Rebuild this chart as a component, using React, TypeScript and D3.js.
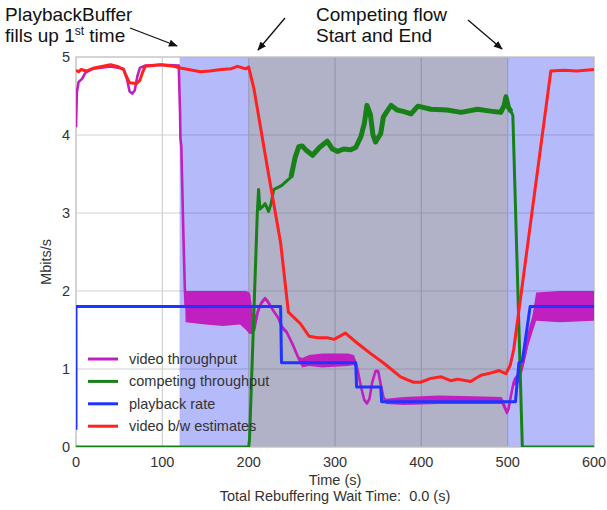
import React from 'react';
import * as d3 from 'd3';

// ---- data ----
const xTicks = [0, 100, 200, 300, 400, 500, 600];
const yTicks = [0, 1, 2, 3, 4, 5];
const bufferSpans = [[120, 200], [500, 600]];
const competeSpan = [200, 500];

// video throughput (lo/hi envelope where it oscillates)
const vidT = [0, 1, 3, 7, 11, 20, 40, 55, 59, 62, 65, 68, 71, 74, 80, 100, 119, 120.5, 121, 122, 124, 126, 127, 150, 170, 190, 197, 201, 202, 205, 208, 211, 215, 219, 223, 229, 234, 239, 244, 252, 258, 262, 270, 285, 300, 315, 322, 326, 330, 334, 337, 340, 343, 347, 350, 353, 356, 359, 380, 420, 460, 493, 496, 499, 501, 504, 507, 512, 516, 520, 524, 529, 533, 560, 600];
const vidLo = [4.1, 4.55, 4.68, 4.72, 4.8, 4.85, 4.88, 4.85, 4.72, 4.56, 4.53, 4.57, 4.75, 4.86, 4.89, 4.9, 4.89, 4.3, 3.95, 3.85, 2.9, 2.05, 1.6, 1.57, 1.55, 1.57, 1.5, 1.45, 1.45, 1.45, 1.5, 1.7, 1.82, 1.88, 1.82, 1.72, 1.64, 1.5, 1.45, 1.26, 1.1, 1.02, 1.04, 1.02, 1.03, 1.04, 1.05, 0.95, 0.75, 0.58, 0.54, 0.6, 0.8, 0.96, 0.95, 0.78, 0.62, 0.55, 0.54, 0.55, 0.55, 0.55, 0.48, 0.41, 0.45, 0.62, 0.78, 0.82, 0.92, 1.1, 1.3, 1.48, 1.62, 1.6, 1.62];
const vidHi = [4.1, 4.55, 4.68, 4.72, 4.8, 4.85, 4.88, 4.85, 4.72, 4.56, 4.53, 4.57, 4.75, 4.86, 4.89, 4.9, 4.89, 4.3, 3.95, 3.85, 2.9, 2.05, 2.0, 2.0, 2.0, 2.0, 2.0, 1.98, 1.95, 1.7, 1.7, 1.8, 1.88, 1.93, 1.88, 1.76, 1.68, 1.56, 1.5, 1.32, 1.16, 1.14, 1.18, 1.2, 1.2, 1.2, 1.18, 1.05, 0.8, 0.62, 0.58, 0.64, 0.85, 0.99, 0.99, 0.82, 0.66, 0.62, 0.64, 0.66, 0.65, 0.64, 0.58, 0.48, 0.52, 0.72, 0.88, 0.95, 1.08, 1.3, 1.5, 1.7, 1.98, 2.0, 2.0];

// competing throughput
const grnT = [0, 200, 201, 210, 211.5, 213, 216, 219, 223, 226, 229, 238, 249, 254, 258, 262, 267, 274, 282, 291, 297, 303, 310, 318, 324, 330, 334, 337, 341, 344, 347, 353, 356, 360, 365, 372, 380, 388, 396, 411, 430, 446, 465, 484, 492, 496, 498, 501, 504, 506, 517, 600];
const grnV = [0, 0, 0.1, 3.0, 3.3, 3.05, 3.08, 3.12, 3.02, 3.12, 3.3, 3.35, 3.46, 3.72, 3.85, 3.86, 3.8, 3.74, 3.84, 3.92, 3.82, 3.79, 3.82, 3.81, 3.84, 3.98, 4.15, 4.38, 4.26, 4.0, 3.91, 4.02, 4.23, 4.3, 4.38, 4.32, 4.3, 4.27, 4.37, 4.33, 4.32, 4.29, 4.33, 4.3, 4.29, 4.38, 4.49, 4.35, 4.3, 4.25, 0, 0];

// playback rate
const rateT = [0, 0, 237, 238, 324, 325, 353, 354, 509, 513, 517, 526, 600];
const rateV = [0.22, 1.8, 1.8, 1.08, 1.08, 0.77, 0.77, 0.58, 0.58, 1.08, 1.1, 1.8, 1.8];

// video b/w estimates
const estT = [0, 3, 6, 12, 21, 40, 48, 55, 58, 62, 70, 74, 77, 80, 98, 113, 121, 135, 144, 155, 168, 180, 187, 193, 197, 200, 206, 223, 237, 246, 260, 270, 280, 291, 299, 312, 326, 341, 357, 376, 384, 391, 399, 411, 423, 434, 442, 457, 469, 481, 490, 498, 503, 507, 550, 565, 580, 600];
const estV = [4.83, 4.81, 4.84, 4.82, 4.86, 4.9, 4.88, 4.84, 4.76, 4.67, 4.66, 4.7, 4.8, 4.88, 4.9, 4.88, 4.86, 4.83, 4.81, 4.82, 4.84, 4.85, 4.88, 4.86, 4.85, 4.87, 4.6, 3.5, 2.62, 1.73, 1.58, 1.42, 1.4, 1.4, 1.38, 1.46, 1.33, 1.2, 1.07, 0.9, 0.86, 0.83, 0.83, 0.88, 0.9, 0.85, 0.87, 0.84, 0.92, 0.95, 0.98, 0.94, 1.05, 1.25, 4.82, 4.83, 4.82, 4.84];

const legendLabels = ['video throughput', 'competing throughput', 'playback rate', 'video b/w estimates'];
const legendColors = ['#c020c0', '#178017', '#1f35ff', '#ff2020'];

export default function App() {
  const L = 76, R = 594, T = 57, B = 447;
  const x = d3.scaleLinear().domain([0, 600]).range([L, R]);
  const y = d3.scaleLinear().domain([0, 5]).range([B, T]);

  const idx = (a: number[]) => a.map((_, i) => i);
  const vidArea = d3.area<number>().x(i => x(vidT[i])).y0(i => y(vidLo[i])).y1(i => y(vidHi[i]));
  const vidLine = d3.line<number>().x(i => x(vidT[i])).y(i => y((vidLo[i] + vidHi[i]) / 2));
  const grnLine = d3.line<number>().x(i => x(grnT[i])).y(i => y(grnV[i]));
  const rateLine = d3.line<number>().x(i => x(rateT[i])).y(i => y(rateV[i]));
  const estLine = d3.line<number>().x(i => x(estT[i])).y(i => y(estV[i]));
  const grnNoisy = idx(grnT).filter(i => grnT[i] >= 249 && grnT[i] <= 504);

  const font = 'Liberation Sans, Arial, sans-serif';
  const textColor = '#333';
  const annFs = 19;

  return (
    <svg width={607} height={510} style={{ position: 'absolute', left: 0, top: 0, background: '#fff' }} fontFamily={font}>
      <defs>
        <clipPath id="plot"><rect x={L} y={T} width={R - L} height={B - T} /></clipPath>
        <marker id="ah" viewBox="0 0 10 10" refX="9" refY="5" markerWidth="9" markerHeight="9" orient="auto-start-reverse" markerUnits="userSpaceOnUse">
          <path d="M0,1 L10,5 L0,9 z" fill="#111" />
        </marker>
      </defs>
      <rect x={L} y={T} width={R - L} height={B - T} fill="#fff" />
      {/* grid */}
      {xTicks.map(t => <line key={'gx' + t} x1={x(t)} x2={x(t)} y1={T} y2={B} stroke="#cfcfcf" strokeWidth={1.2} />)}
      {yTicks.map(t => <line key={'gy' + t} x1={L} x2={R} y1={y(t)} y2={y(t)} stroke="#cfcfcf" strokeWidth={1.2} />)}
      {/* spans */}
      {bufferSpans.map((s, i) => <rect key={'bs' + i} x={x(s[0])} y={T} width={x(s[1]) - x(s[0])} height={B - T} fill="#0a1ef0" fillOpacity={0.3} />)}
      <rect x={x(competeSpan[0])} y={T} width={x(competeSpan[1]) - x(competeSpan[0])} height={B - T} fill="#525283" fillOpacity={0.45} />
      <rect x={L} y={T} width={R - L} height={B - T} fill="none" stroke="#c8c8c8" strokeWidth={1.2} />
      <g clipPath="url(#plot)" fill="none" strokeLinejoin="round">
        <path d={vidArea(idx(vidT)) || ''} fill="#c020c0" stroke="none" />
        <path d={vidLine(idx(vidT)) || ''} stroke="#c020c0" strokeWidth={2.6} />
        <path d={grnLine(idx(grnT)) || ''} stroke="#178017" strokeWidth={3} />
        <path d={grnLine(grnNoisy) || ''} stroke="#178017" strokeWidth={5} />
        <path d={rateLine(idx(rateT)) || ''} stroke="#1f35ff" strokeWidth={3} />
        <path d={estLine(idx(estT)) || ''} stroke="#ff2020" strokeWidth={3} />
      </g>
      {/* tick labels */}
      {xTicks.map(t => <text key={'tx' + t} x={x(t)} y={467} textAnchor="middle" fontSize={14.5} fill={textColor}>{t}</text>)}
      {yTicks.map(t => <text key={'ty' + t} x={70} y={y(t) + 5} textAnchor="end" fontSize={14.5} fill={textColor}>{t}</text>)}
      <text x={(L + R) / 2} y={485} textAnchor="middle" fontSize={14.5} fill={textColor}>Time (s)</text>
      <text x={(L + R) / 2} y={501} textAnchor="middle" fontSize={14.5} fill={textColor} style={{ whiteSpace: 'pre' }}>{'Total Rebuffering Wait Time:  0.0 (s)'}</text>
      <text transform={`translate(51,262) rotate(-90)`} textAnchor="middle" fontSize={14.5} fill={textColor}>Mbits/s</text>
      {/* legend */}
      {legendLabels.map((lab, i) => (
        <g key={lab}>
          <line x1={88} x2={118} y1={359 + i * 22.4} y2={359 + i * 22.4} stroke={legendColors[i]} strokeWidth={3} />
          <text x={129} y={359 + i * 22.4 + 5} fontSize={14.5} fill={textColor}>{lab}</text>
        </g>
      ))}
      {/* annotations */}
      <text x={5} y={21} fontSize={annFs} fill="#111">PlaybackBuffer</text>
      <text x={5} y={42} fontSize={annFs} fill="#111">fills up 1<tspan dy={-7} fontSize={12}>st</tspan><tspan dy={7}> time</tspan></text>
      <text x={316} y={21} fontSize={annFs} fill="#111">Competing flow</text>
      <text x={316} y={42} fontSize={annFs} fill="#111">Start and End</text>
      <line x1={130} y1={28} x2={177} y2={46} stroke="#111" strokeWidth={1.3} markerEnd="url(#ah)" />
      <line x1={285} y1={18} x2={258} y2={50} stroke="#111" strokeWidth={1.3} markerEnd="url(#ah)" />
      <line x1={468} y1={20} x2={502} y2={49} stroke="#111" strokeWidth={1.3} markerEnd="url(#ah)" />
    </svg>
  );
}
